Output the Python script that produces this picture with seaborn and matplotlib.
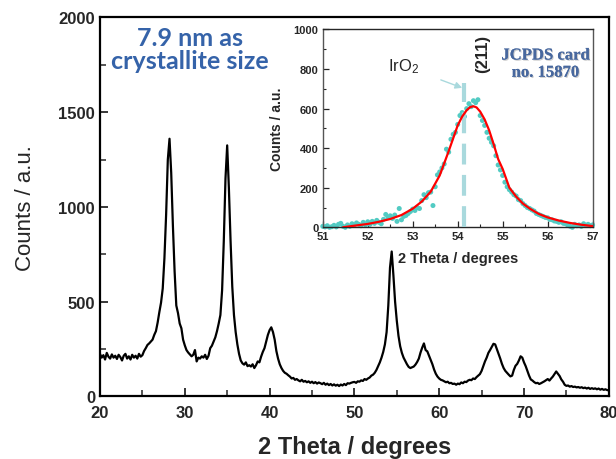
import numpy as np
import pandas as pd
import seaborn as sns
from matplotlib import pyplot as plt
from matplotlib import patheffects
from matplotlib.ticker import MultipleLocator

# main XRD pattern, 0.2 degree steps from 20 to 80
two_theta = np.round(np.arange(20.0, 80.01, 0.2), 1)
counts = [
    225, 205, 218, 195, 230, 210, 200, 222, 205, 215,   # 20
    198, 220, 208, 190, 215, 225, 200, 212, 195, 220,   # 22
    205, 215, 200, 225, 210, 218, 240, 255, 272, 280,   # 24
    290, 300, 325, 345, 390, 445, 495, 570, 730, 960,   # 26
    1250, 1360, 1180, 900, 660, 480, 440, 385, 360, 300,  # 28
    270, 245, 232, 222, 212, 220, 245, 185, 205, 200,   # 30
    212, 205, 220, 198, 215, 255, 268, 290, 312, 345,   # 32
    385, 430, 560, 820, 1150, 1325, 1100, 820, 580, 430,  # 34
    340, 275, 225, 190, 175, 168, 180, 160, 165, 158,   # 36
    170, 150, 165, 185, 180, 210, 235, 255, 290, 325,   # 38
    350, 365, 340, 300, 240, 200, 170, 150, 135, 125,   # 40
    120, 112, 105, 95, 98, 88, 92, 85, 80, 88,          # 42
    78, 82, 75, 80, 72, 78, 70, 76, 68, 74,             # 44
    70, 65, 72, 62, 68, 60, 66, 58, 64, 57,             # 46
    62, 55, 63, 58, 66, 60, 70, 68, 72, 75,             # 48
    77, 72, 80, 78, 85, 82, 92, 88, 95, 100,            # 50
    110, 115, 125, 140, 160, 180, 205, 235, 275, 340,   # 52
    480, 680, 765, 640, 500, 400, 320, 265, 230, 205,   # 54
    188, 170, 156, 150, 154, 158, 168, 182, 200, 232,   # 56
    258, 280, 245, 238, 215, 192, 170, 142, 120, 105,   # 58
    95, 88, 85, 80, 75, 78, 70, 72, 66, 68,             # 60
    62, 68, 65, 74, 70, 78, 76, 84, 88, 86,             # 62
    95, 92, 102, 110, 118, 135, 160, 185, 205, 230,     # 64
    245, 262, 278, 275, 250, 225, 200, 172, 150, 135,   # 66
    125, 115, 106, 110, 140, 162, 172, 190, 212, 205,   # 68
    180, 160, 135, 110, 90, 84, 76, 70, 72, 66,         # 70
    70, 75, 80, 86, 92, 84, 95, 105, 118, 132,          # 72
    120, 108, 90, 78, 62, 56, 58, 52, 55, 50,           # 74
    52, 48, 50, 46, 49, 44, 47, 42, 46, 40,             # 76
    44, 40, 43, 38, 42, 36, 40, 35, 38, 34,             # 78
    32,                                                 # 80
]

# inset: (211) reflection, measured points
inset_x = np.round(np.arange(51.0, 57.001, 0.05), 2)
inset_y = [
    5, 2, 8, 0, 3, 10, 2, 15, 20, 5,
    0, 12, 5, 18, 10, 22, 15, 8, 25, 12,
    28, 15, 30, 20, 35, 25, 18, 40, 65, 50,
    58, 45, 62, 30, 95, 38, 55, 60, 70, 80,
    92, 85, 100, 95, 135, 165, 150, 175, 178, 110,
    205, 265, 280, 300, 320, 395, 380, 445, 470, 480,
    520, 565, 580, 560, 600, 625, 610, 640, 630, 645,
    565, 540, 515, 480, 450, 430, 412, 362, 315, 290,
    262, 228, 205, 190, 178, 165, 158, 140, 135, 120,
    110, 100, 95, 88, 82, 70, 65, 60, 55, 50,
    48, 40, 38, 32, 30, 25, 28, 20, 18, 10,
    5, 0, 15, 8, 12, 5, 18, 10, 15, 8, 12,
]

# inset: fitted profile
fit_x = [51.45, 51.7, 52.0, 52.25, 52.5, 52.75, 53.0, 53.2, 53.4, 53.6,
         53.8, 53.9, 54.0, 54.1, 54.2, 54.28, 54.35, 54.42, 54.5, 54.6,
         54.7, 54.8, 54.9, 55.0, 55.15, 55.3, 55.45, 55.6, 55.8, 56.0,
         56.25, 56.5, 56.75, 57.0]
fit_y = [0, 8, 17, 28, 42, 62, 94, 130, 180, 262,
         385, 450, 515, 560, 592, 608, 612, 606, 585, 545,
         490, 420, 345, 295, 200, 155, 120, 95, 68, 50,
         34, 22, 13, 6]

ref_pos = 54.15   # JCPDS 15870, IrO2 (211)
ref_top = 730


def main():
    sns.set_style("ticks")
    plt.rcParams['font.family'] = ['Liberation Sans', 'DejaVu Sans']
    plt.rcParams['font.weight'] = 'bold'
    plt.rcParams['mathtext.default'] = 'regular'

    df = pd.DataFrame({"two_theta": two_theta, "counts": counts})
    df_pts = pd.DataFrame({"x": inset_x, "y": inset_y})
    df_fit = pd.DataFrame({"x": fit_x, "y": fit_y})

    fig = plt.figure(figsize=(6.16, 4.6), dpi=100)
    ax = fig.add_axes([0.1623, 0.1359, 0.826, 0.824])

    sns.lineplot(data=df, x="two_theta", y="counts", ax=ax, color="black",
                 linewidth=1.6)
    ax.set_xlim(20, 80)
    ax.set_ylim(0, 2000)
    ax.xaxis.set_major_locator(MultipleLocator(10))
    ax.xaxis.set_minor_locator(MultipleLocator(5))
    ax.yaxis.set_major_locator(MultipleLocator(500))
    ax.yaxis.set_minor_locator(MultipleLocator(250))
    ax.tick_params(which='both', direction='in', labelsize=12, top=False,
                   right=False)
    ax.tick_params(axis='x', pad=6)
    ax.tick_params(which='major', length=6, width=1.3)
    ax.tick_params(which='minor', length=4, width=1.1)
    for s in ax.spines.values():
        s.set_linewidth(1.6)
        s.set_color('black')
    ax.set_xlabel("2 Theta / degrees", fontsize=17, fontweight='bold',
                  labelpad=11)
    ax.set_ylabel("Counts / a.u.", fontsize=16, fontweight='normal',
                  labelpad=16)

    ax.text(30.6, 1835, "7.9 nm as\ncrystallite size", ha='center',
            va='center', fontsize=18, fontweight='bold', color='#3563a9',
            family=['Lato', 'DejaVu Sans'], linespacing=1.0)

    # inset
    axin = fig.add_axes([0.524, 0.5037, 0.438, 0.430])
    sns.scatterplot(data=df_pts, x="x", y="y", ax=axin, color="#52cbc3",
                    s=13, marker='o', edgecolor='none', clip_on=False,
                    zorder=2)
    axin.plot([ref_pos, ref_pos], [0, ref_top], color='#a9d9dd', lw=3,
              dashes=(5, 2.5), zorder=3)
    sns.lineplot(data=df_fit, x="x", y="y", ax=axin, color="red",
                 linewidth=1.6, zorder=4)
    axin.set_xlim(51, 57)
    axin.set_ylim(0, 1000)
    axin.xaxis.set_major_locator(MultipleLocator(1))
    axin.xaxis.set_minor_locator(MultipleLocator(0.5))
    axin.yaxis.set_major_locator(MultipleLocator(200))
    axin.yaxis.set_minor_locator(MultipleLocator(100))
    axin.tick_params(which='both', direction='in', labelsize=8,
                     top=False, right=False, pad=3)
    axin.tick_params(which='major', length=4, width=0.9)
    axin.tick_params(which='minor', length=2.5, width=0.8)
    for s in axin.spines.values():
        s.set_linewidth(1.0)
    axin.spines['left'].set_color('#555555')
    axin.spines['right'].set_color('#555555')
    axin.set_xlabel("2 Theta / degrees", fontsize=10.5, fontweight='bold',
                    labelpad=7)
    axin.set_ylabel("Counts / a.u.", fontsize=10, fontweight='bold',
                    labelpad=7)

    axin.annotate("IrO$_2$", xy=(54.1, 705), xytext=(52.8, 815),
                  fontsize=12, fontweight='normal', ha='center', va='center',
                  arrowprops=dict(arrowstyle='-|>', color='#a9d9dd', lw=1,
                                  shrinkA=14, shrinkB=0, mutation_scale=10))
    axin.text(54.55, 880, "(211)", rotation=90, ha='center', va='center',
              fontsize=12, fontweight='bold')
    axin.text(55.95, 825, "JCPDS card\nno. 15870", ha='center', va='center',
              fontsize=12, fontweight='bold', color='#48689e',
              family=['Liberation Serif', 'DejaVu Serif'], linespacing=1.1,
              path_effects=[patheffects.withSimplePatchShadow(
                  offset=(0.8, -0.8), shadow_rgbFace='#999999', alpha=0.5),
                  patheffects.Normal()])

    fig.savefig("out.png", dpi=100)


if __name__ == "__main__":
    main()
